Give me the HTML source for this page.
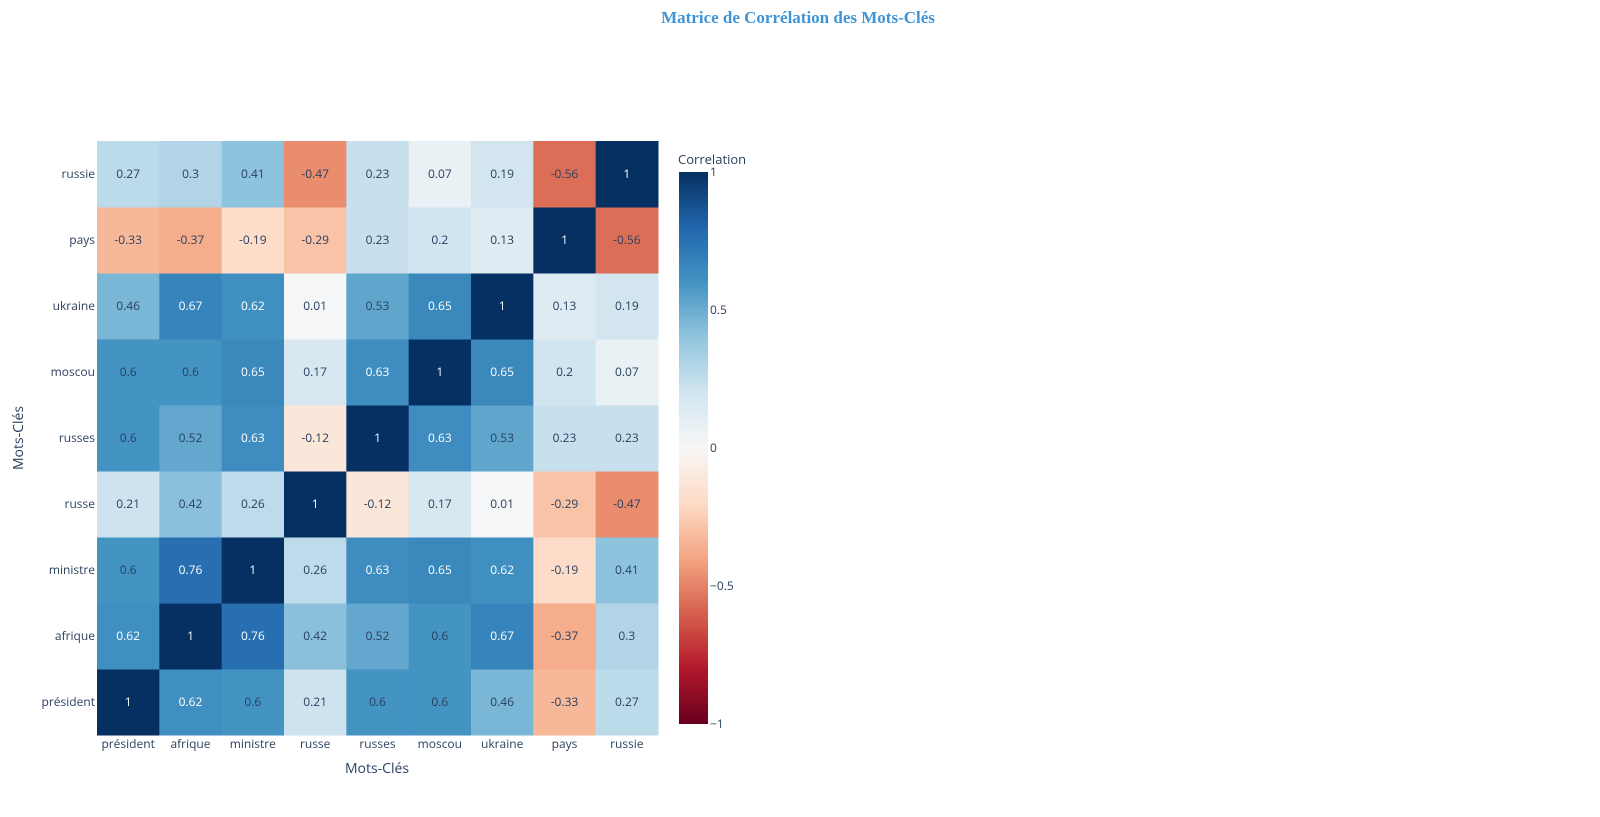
<!DOCTYPE html>
<html><head><meta charset="utf-8"><style>
body{margin:0;background:#fff;width:1600px;height:812px;overflow:hidden;font-family:"Open Sans","Liberation Sans",sans-serif;}
</style></head><body>
<svg id="chart" width="1600" height="812" xmlns="http://www.w3.org/2000/svg">
<defs><linearGradient id="cb" x1="0" y1="1" x2="0" y2="0">
<stop offset="0" stop-color="rgb(103,0,31)"/><stop offset="0.1" stop-color="rgb(178,24,43)"/><stop offset="0.2" stop-color="rgb(214,96,77)"/><stop offset="0.3" stop-color="rgb(244,165,130)"/><stop offset="0.4" stop-color="rgb(253,219,199)"/><stop offset="0.5" stop-color="rgb(247,247,247)"/><stop offset="0.6" stop-color="rgb(209,229,240)"/><stop offset="0.7" stop-color="rgb(146,197,222)"/><stop offset="0.8" stop-color="rgb(67,147,195)"/><stop offset="0.9" stop-color="rgb(33,102,172)"/><stop offset="1" stop-color="rgb(5,48,97)"/></linearGradient></defs>
<text x="798" y="23" text-anchor="middle" font-family="Liberation Serif,serif" font-weight="bold" font-size="17" fill="#3d95d8">Matrice de Corrélation des Mots-Clés</text>
<g id="cells"></g>
<g id="labels"></g>
<text x="377" y="773" text-anchor="middle" font-size="14" fill="#2a3f5f">Mots-Clés</text>
<text transform="translate(23,438) rotate(-90)" text-anchor="middle" font-size="14" fill="#2a3f5f">Mots-Clés</text>
<text x="678" y="164" font-size="13" fill="#2a3f5f">Correlation</text>
<rect x="679" y="172" width="29" height="552" fill="url(#cb)"/>
<g id="cbticks"></g>
</svg>
<script>
const categories=["président","afrique","ministre","russe","russes","moscou","ukraine","pays","russie"];
const rowPresident=[1,0.62,0.6,0.21,0.6,0.6,0.46,-0.33,0.27];
const rowAfrique=[0.62,1,0.76,0.42,0.52,0.6,0.67,-0.37,0.3];
const rowMinistre=[0.6,0.76,1,0.26,0.63,0.65,0.62,-0.19,0.41];
const rowRusse=[0.21,0.42,0.26,1,-0.12,0.17,0.01,-0.29,-0.47];
const rowRusses=[0.6,0.52,0.63,-0.12,1,0.63,0.53,0.23,0.23];
const rowMoscou=[0.6,0.6,0.65,0.17,0.63,1,0.65,0.2,0.07];
const rowUkraine=[0.46,0.67,0.62,0.01,0.53,0.65,1,0.13,0.19];
const rowPays=[-0.33,-0.37,-0.19,-0.29,0.23,0.2,0.13,1,-0.56];
const rowRussie=[0.27,0.3,0.41,-0.47,0.23,0.07,0.19,-0.56,1];
const matrix=[rowPresident,rowAfrique,rowMinistre,rowRusse,rowRusses,rowMoscou,rowUkraine,rowPays,rowRussie];
const cbTicks=[1,0.5,0,-0.5,-1];
const cbTickLabels=["1","0.5","0","−0.5","−1"];

const NS="http://www.w3.org/2000/svg";
const X0=97,X1=658,Y0=141,Y1=735;
const cw=(X1-X0)/categories.length, ch=(Y1-Y0)/categories.length;
const xPos=i=>X0+i*cw;
const yPos=j=>Y1-(j+1)*ch;
const cbY=v=>172+(1-v)/2*552;
const stops=[[0,[103,0,31]],[0.1,[178,24,43]],[0.2,[214,96,77]],[0.3,[244,165,130]],[0.4,[253,219,199]],[0.5,[247,247,247]],[0.6,[209,229,240]],[0.7,[146,197,222]],[0.8,[67,147,195]],[0.9,[33,102,172]],[1,[5,48,97]]];
function color(v){const t=(v+1)/2;for(let k=1;k<stops.length;k++){if(t<=stops[k][0]){const a=stops[k-1],b=stops[k];const f=(t-a[0])/(b[0]-a[0]);const c=a[1].map((x,i)=>Math.round(x+(b[1][i]-x)*f));return `rgb(${c})`;}}return "rgb(5,48,97)";}
function mk(tag,attrs,parent){const e=document.createElementNS(NS,tag);for(const k in attrs)e.setAttribute(k,attrs[k]);parent.appendChild(e);return e;}
const cells=document.getElementById('cells'),labels=document.getElementById('labels');
matrix.forEach((row,j)=>{row.forEach((v,i)=>{
 const r=mk('rect',{x:xPos(i),y:yPos(j),width:cw+0.5,height:ch+0.5,fill:color(v)},cells);
 
 
 const t=mk('text',{x:xPos(i)+cw/2,y:yPos(j)+ch/2+4,'text-anchor':'middle','font-size':12,fill:(v>0.61||v<-0.7)?'#fff':'#2a3f5f'},cells);
 t.textContent=String(v);
 
 
});});
categories.forEach((c,i)=>{
 const t=mk('text',{x:xPos(i)+cw/2,y:748,'text-anchor':'middle','font-size':12,fill:'#2a3f5f'},labels);
 t.textContent=c;
 
 
 const u=mk('text',{x:95,y:yPos(i)+ch/2+4,'text-anchor':'end','font-size':12,fill:'#2a3f5f'},labels);
 u.textContent=c;
 
 
});
const cbg=document.getElementById('cbticks');
cbTicks.forEach((v,k)=>{
 const t=mk('text',{x:710,y:cbY(v)+4,'font-size':12,fill:'#2a3f5f'},cbg);
 t.textContent=cbTickLabels[k];
 
 
});
</script>
</body></html>
